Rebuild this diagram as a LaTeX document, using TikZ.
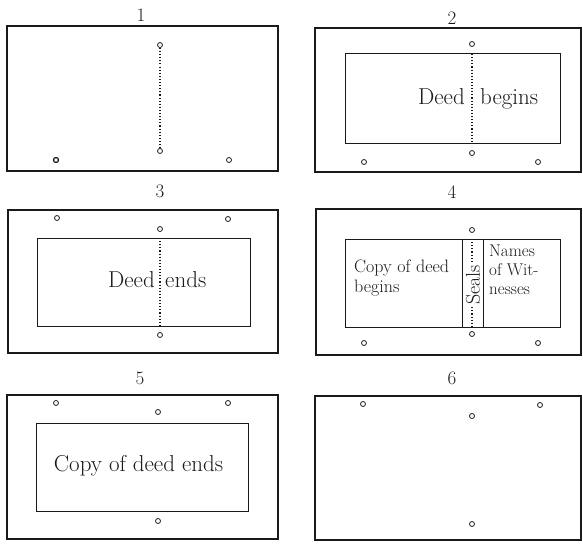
\documentclass[tikz,border=0pt]{standalone}
\usepackage{xcolor}
\usepackage{tikz}
\usetikzlibrary{positioning,calc}
\definecolor{ink}{HTML}{1A1A1A}
\tikzset{
    sheet/.style={rectangle, draw=ink, line width=1.2pt, inner sep=0pt, outer sep=0pt},
    panel/.style={rectangle, draw=ink, line width=1pt, inner sep=0pt, outer sep=0pt},
    hole/.style={circle, draw=ink, line width=0.8pt, fill=white, inner sep=0pt, minimum size=5pt},
    fold/.style={dotted, line width=1.1pt, color=ink},
    num/.style={font=\fontsize{19}{19}\selectfont, text=ink},
    word/.style={font=\fontsize{23}{23}\selectfont, text=ink, inner sep=0pt},
    small/.style={font=\fontsize{18}{20}\selectfont, text=ink, align=left, inner sep=0pt}
}

\begin{document}
\begin{tikzpicture}[x=1pt, y=-1pt]
\useasboundingbox (0,0) rectangle (583,543);
% 1
\node[num] (n1) at (141,15) {1};
\node[sheet, minimum width=271, minimum height=145] (p1) at (142.5,98.5) {};
\node[hole] (h1a) at (160,45) {};
\node[hole] (h1b) at (160,151) {};
\node[hole, line width=1.3pt] (h1c) at (56,160) {};
\node[hole] (h1d) at (229,160) {};
\draw[fold] (h1a) -- (h1b);
% 2
\node[num] (n2) at (452,18) {2};
\node[sheet, minimum width=266, minimum height=144] (p2) at (448,100) {};
\node[panel, minimum width=215, minimum height=89] (in2) at (452.5,98.5) {};
\coordinate (f2t) at (472,54);
\coordinate (f2b) at (472,143);
\draw[fold] (f2t) -- (f2b);
\node[hole] (h2a) at (472,44) {};
\node[hole] (h2b) at (472,153) {};
\node[hole] (h2c) at (364,162) {};
\node[hole] (h2d) at (538,162) {};
\node[word, anchor=base east] (d2) at (465,104) {Deed};
\node[word, anchor=base west] (b2) at (480,104) {begins};
% 3
\node[num] (n3) at (160,191) {3};
\node[sheet, minimum width=270, minimum height=143] (p3) at (143,281.5) {};
\node[panel, minimum width=213, minimum height=88] (in3) at (143.5,282) {};
\coordinate (f3t) at (160,238);
\coordinate (f3b) at (160,326);
\draw[fold] (f3t) -- (f3b);
\node[hole] (h3a) at (57,218) {};
\node[hole] (h3b) at (228,219) {};
\node[hole] (h3c) at (160,229) {};
\node[hole] (h3d) at (160,335) {};
\node[word, anchor=base east] (d3) at (155,287) {Deed};
\node[word, anchor=base west] (e3) at (165,287) {ends};
% 4
\node[num] (n4) at (452,192) {4};
\node[sheet, minimum width=265, minimum height=146] (p4) at (448.5,282) {};
\node[panel, minimum width=215, minimum height=88] (in4) at (452.5,283) {};
\coordinate (s4a) at (462,239);
\coordinate (s4b) at (462,327);
\coordinate (s4c) at (483,239);
\coordinate (s4d) at (483,327);
\draw[line width=1pt, ink] (s4a) -- (s4b) (s4c) -- (s4d);
\coordinate (f4t) at (472,239);
\coordinate (f4b) at (472,327);
\draw[fold] (f4t) -- (f4b);
\node[word, rotate=90, fill=white, inner sep=1pt, font=\fontsize{20}{20}\selectfont] (seal) at (473,285) {Seals};
\node[hole] (h4a) at (472,230) {};
\node[hole] (h4b) at (472,334) {};
\node[hole] (h4c) at (364,343) {};
\node[hole] (h4d) at (538,343) {};
\node[small, anchor=base west] (c4) at (354,292) {Copy of deed\\begins};
\node[small, anchor=base west, font=\fontsize{17}{19}\selectfont] (w4) at (489,294) {Names\\of Wit-\\nesses};
% 5
\node[num] (n5) at (140,378) {5};
\node[sheet, minimum width=271, minimum height=144] (p5) at (142.5,467) {};
\node[panel, minimum width=212, minimum height=88] (in5) at (142,467) {};
\node[hole] (h5a) at (56,403) {};
\node[hole] (h5b) at (228,403) {};
\node[hole] (h5c) at (158,412) {};
\node[hole] (h5d) at (158,521) {};
\node[word, anchor=base] (c5) at (138.5,471) {Copy of deed ends};
% 6
\node[num] (n6) at (452,378) {6};
\node[sheet, minimum width=266, minimum height=144] (p6) at (448,468) {};
\node[hole] (h6a) at (363,404) {};
\node[hole] (h6b) at (540,405) {};
\node[hole] (h6c) at (472,416) {};
\node[hole] (h6d) at (472,524) {};
\end{tikzpicture}
\end{document}
